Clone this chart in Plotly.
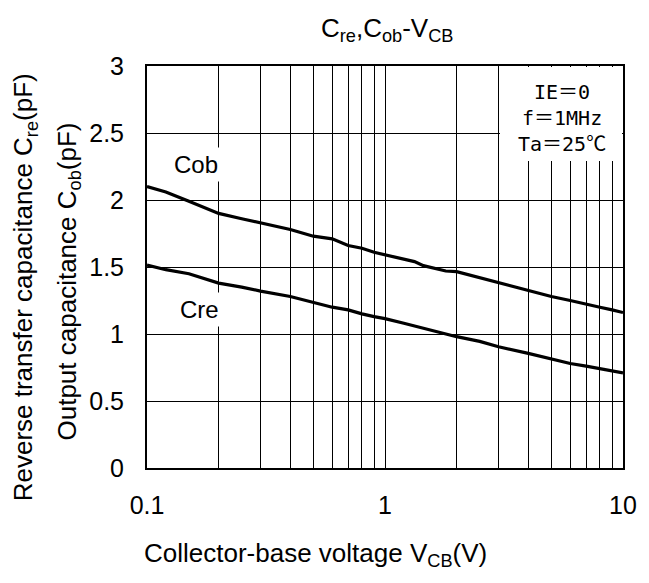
import plotly.graph_objects as go

# ---- data ----
vcb = [0.1, 0.12, 0.15, 0.2, 0.25, 0.3, 0.4, 0.5, 0.6, 0.7, 0.8, 0.9, 1.0,
       1.2, 1.33, 1.45, 1.8, 2, 2.5, 3, 4, 5, 6, 7, 8, 9, 10]
cob = [2.10, 2.06, 1.99, 1.90, 1.86, 1.83, 1.78, 1.73, 1.71, 1.66, 1.64, 1.61, 1.59,
       1.555, 1.54, 1.51, 1.47, 1.465, 1.42, 1.38, 1.32, 1.28, 1.25, 1.22, 1.20, 1.18, 1.16]
cre = [1.515, 1.48, 1.45, 1.38, 1.35, 1.32, 1.28, 1.235, 1.20, 1.18, 1.15, 1.13, 1.115,
       1.08, 1.06, 1.04, 1.00, 0.98, 0.945, 0.905, 0.855, 0.815, 0.78, 0.76, 0.74, 0.725, 0.71]

x_tickvals = [0.1, 0.2, 0.3, 0.4, 0.5, 0.6, 0.7, 0.8, 0.9, 1,
              2, 3, 4, 5, 6, 7, 8, 9, 10]
x_ticktext = ["0.1", "", "", "", "", "", "", "", "", "1",
              "", "", "", "", "", "", "", "", "10"]
y_tickvals = [0, 0.5, 1, 1.5, 2, 2.5, 3]
y_ticktext = ["0", "0.5", "1", "1.5", "2", "2.5", "3"]
conditions = ["IE＝0", "f＝1MHz", "Ta＝25℃"]

FONT = "Liberation Sans, Arial, sans-serif"
GOTHIC = "DejaVu Sans Mono, Noto Sans CJK JP, monospace"

fig = go.Figure()
fig.add_trace(go.Scatter(x=vcb, y=cob, mode="lines",
                         line=dict(color="black", width=3.2), showlegend=False))
fig.add_trace(go.Scatter(x=vcb, y=cre, mode="lines",
                         line=dict(color="black", width=3.2), showlegend=False))

# page body has an 8px margin: compensate so the plot lands at the reference pixels
OFF = 8
W, H = 649 - OFF, 583 - OFF
L, R, T, B = 147 - OFF, 17, 66 - OFF, 115
PW, PH = W - L - R, H - T - B


def px(xp):  # reference screen pixel -> paper
    return (xp - OFF - L) / PW


def py(yp):
    return (H - B - (yp - OFF)) / PH


fig.update_layout(
    width=W, height=H,
    margin=dict(l=L, r=R, t=T, b=B),
    paper_bgcolor="white", plot_bgcolor="white",
    font=dict(family=FONT, color="black", size=24),
    xaxis=dict(type="log", range=[-1, 1], tickvals=x_tickvals, ticktext=x_ticktext,
               showgrid=True, gridcolor="black", gridwidth=1,
               showline=True, linecolor="black", linewidth=2, mirror=True,
               ticks="", ticklabelstandoff=14, zeroline=False,
               tickfont=dict(size=25)),
    yaxis=dict(range=[0, 3], tickvals=y_tickvals, ticktext=y_ticktext,
               showgrid=True, gridcolor="black", gridwidth=1,
               showline=True, linecolor="black", linewidth=2, mirror=True,
               ticks="", ticklabelstandoff=16, zeroline=False,
               tickfont=dict(size=25)),
)


def A(text, xp, yp, size, **kw):
    d = dict(text=text, x=px(xp), y=py(yp), xref="paper", yref="paper",
             xanchor="center", yanchor="middle", showarrow=False,
             font=dict(size=size, family=kw.pop("family", FONT), color="black"))
    d.update(kw)
    return d


ann = [
    A("C<sub>re</sub>,C<sub>ob</sub>-V<sub>CB</sub>", 392, 30, 26),
    A("Collector-base voltage V<sub>CB</sub>(V)", 319, 554, 26),
    A("Reverse transfer capacitance C<sub>re</sub>(pF)", 22, 287, 26, textangle=-90),
    A("Output capacitance C<sub>ob</sub>(pF)", 66, 282, 26, textangle=-90),
    A("Cob", 197, 164, 24, bgcolor="white", borderpad=3),
    A("Cre", 200, 309, 24, bgcolor="white", borderpad=3),
    # white panel behind the measurement conditions (gridlines are hidden there)
    dict(text=" ", x=px(630.5), y=py(67.5), xref="paper", yref="paper",
         xanchor="right", yanchor="top", showarrow=False, width=122, height=94,
         bgcolor="white", borderpad=0, borderwidth=0),
    A("<br>".join(conditions), 570, 118, 20, family=GOTHIC),
]
fig.update_layout(annotations=ann)

fig.write_html("out.html")
